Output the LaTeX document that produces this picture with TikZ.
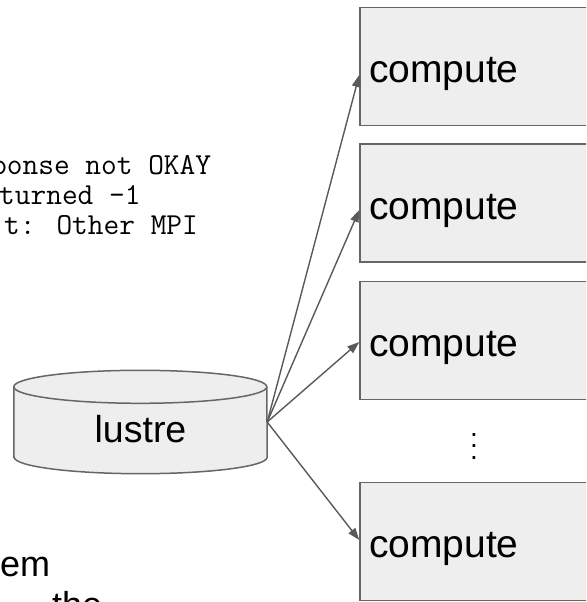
\documentclass[tikz,border=0pt]{standalone}
\usepackage{fontspec}
\setmainfont{Liberation Sans}
\usetikzlibrary{arrows.meta,backgrounds}
\definecolor{boxfill}{HTML}{EEEEEE}
\definecolor{boxline}{HTML}{666666}
\definecolor{arrowgray}{HTML}{595959}
\begin{document}
\begin{tikzpicture}[x=1pt,y=1pt,
  computebox/.style={rectangle,draw=boxline,fill=boxfill,line width=1.5pt,minimum width=260pt,minimum height=118pt,text width=242pt,inner xsep=9pt,text height=33pt,text depth=0pt,align=left,font=\fontsize{39}{44}\selectfont},
  fetch/.style={draw=arrowgray,line width=1.4pt,-{Triangle[length=12pt,width=8.5pt]}},
  logline/.style={anchor=base west,inner sep=0pt,font=\ttfamily\fontsize{30.5}{30}\selectfont},
  slidetext/.style={anchor=base west,inner sep=0pt,font=\fontsize{36}{40}\selectfont}]

       \useasboundingbox (0,0) rectangle (586,602);
       \clip (0,0) rectangle (586,602);

       \node[logline] (log1) at (-9,427) {ponse not OKAY};
       \node[logline] (log2) at (-1,397) {turned -1};
       \node[logline] (log3) at (4,367) {t: Other MPI};

       \node[computebox] (c1) at (490,535.5) {compute};
       \node[computebox] (c2) at (490,399) {compute};
       \node[computebox] (c3) at (490,261.5) {compute};
       \node[scale=2.8] (more) at (474,164) {$\vdots$};
       \node[computebox] (c4) at (490,60.5) {compute};

       \node[minimum width=253pt,minimum height=70pt,inner sep=0pt,text height=42pt,text depth=0pt,font=\fontsize{37.5}{40}\selectfont] (lustre) at (140.5,180) {lustre};
       \begin{scope}[on background layer]
         \draw[draw=boxline,fill=boxfill,line width=1.5pt] (lustre.south west) -- (lustre.north west)
           arc[start angle=180,end angle=0,x radius=126.5pt,y radius=16.5pt] -- (lustre.south east)
           arc[start angle=0,end angle=-180,x radius=126.5pt,y radius=16.5pt] -- cycle;
         \draw[draw=boxline,line width=1.5pt] (lustre.north west) arc[start angle=180,end angle=360,x radius=126.5pt,y radius=16.5pt];
       \end{scope}

       \draw[fetch] (lustre.east) -- ([yshift=-8.5pt]c1.west);
       \draw[fetch] (lustre.east) -- ([yshift=-7pt]c2.west);
       \draw[fetch] (lustre.east) -- ([yshift=-1.5pt]c3.west);
       \draw[fetch] (lustre.east) -- ([yshift=1.5pt]c4.west);

       \node[slidetext] (em) at (0,25) {em};
       \node[slidetext] (the) at (52,-16) {the};
     \end{tikzpicture}
\end{document}
